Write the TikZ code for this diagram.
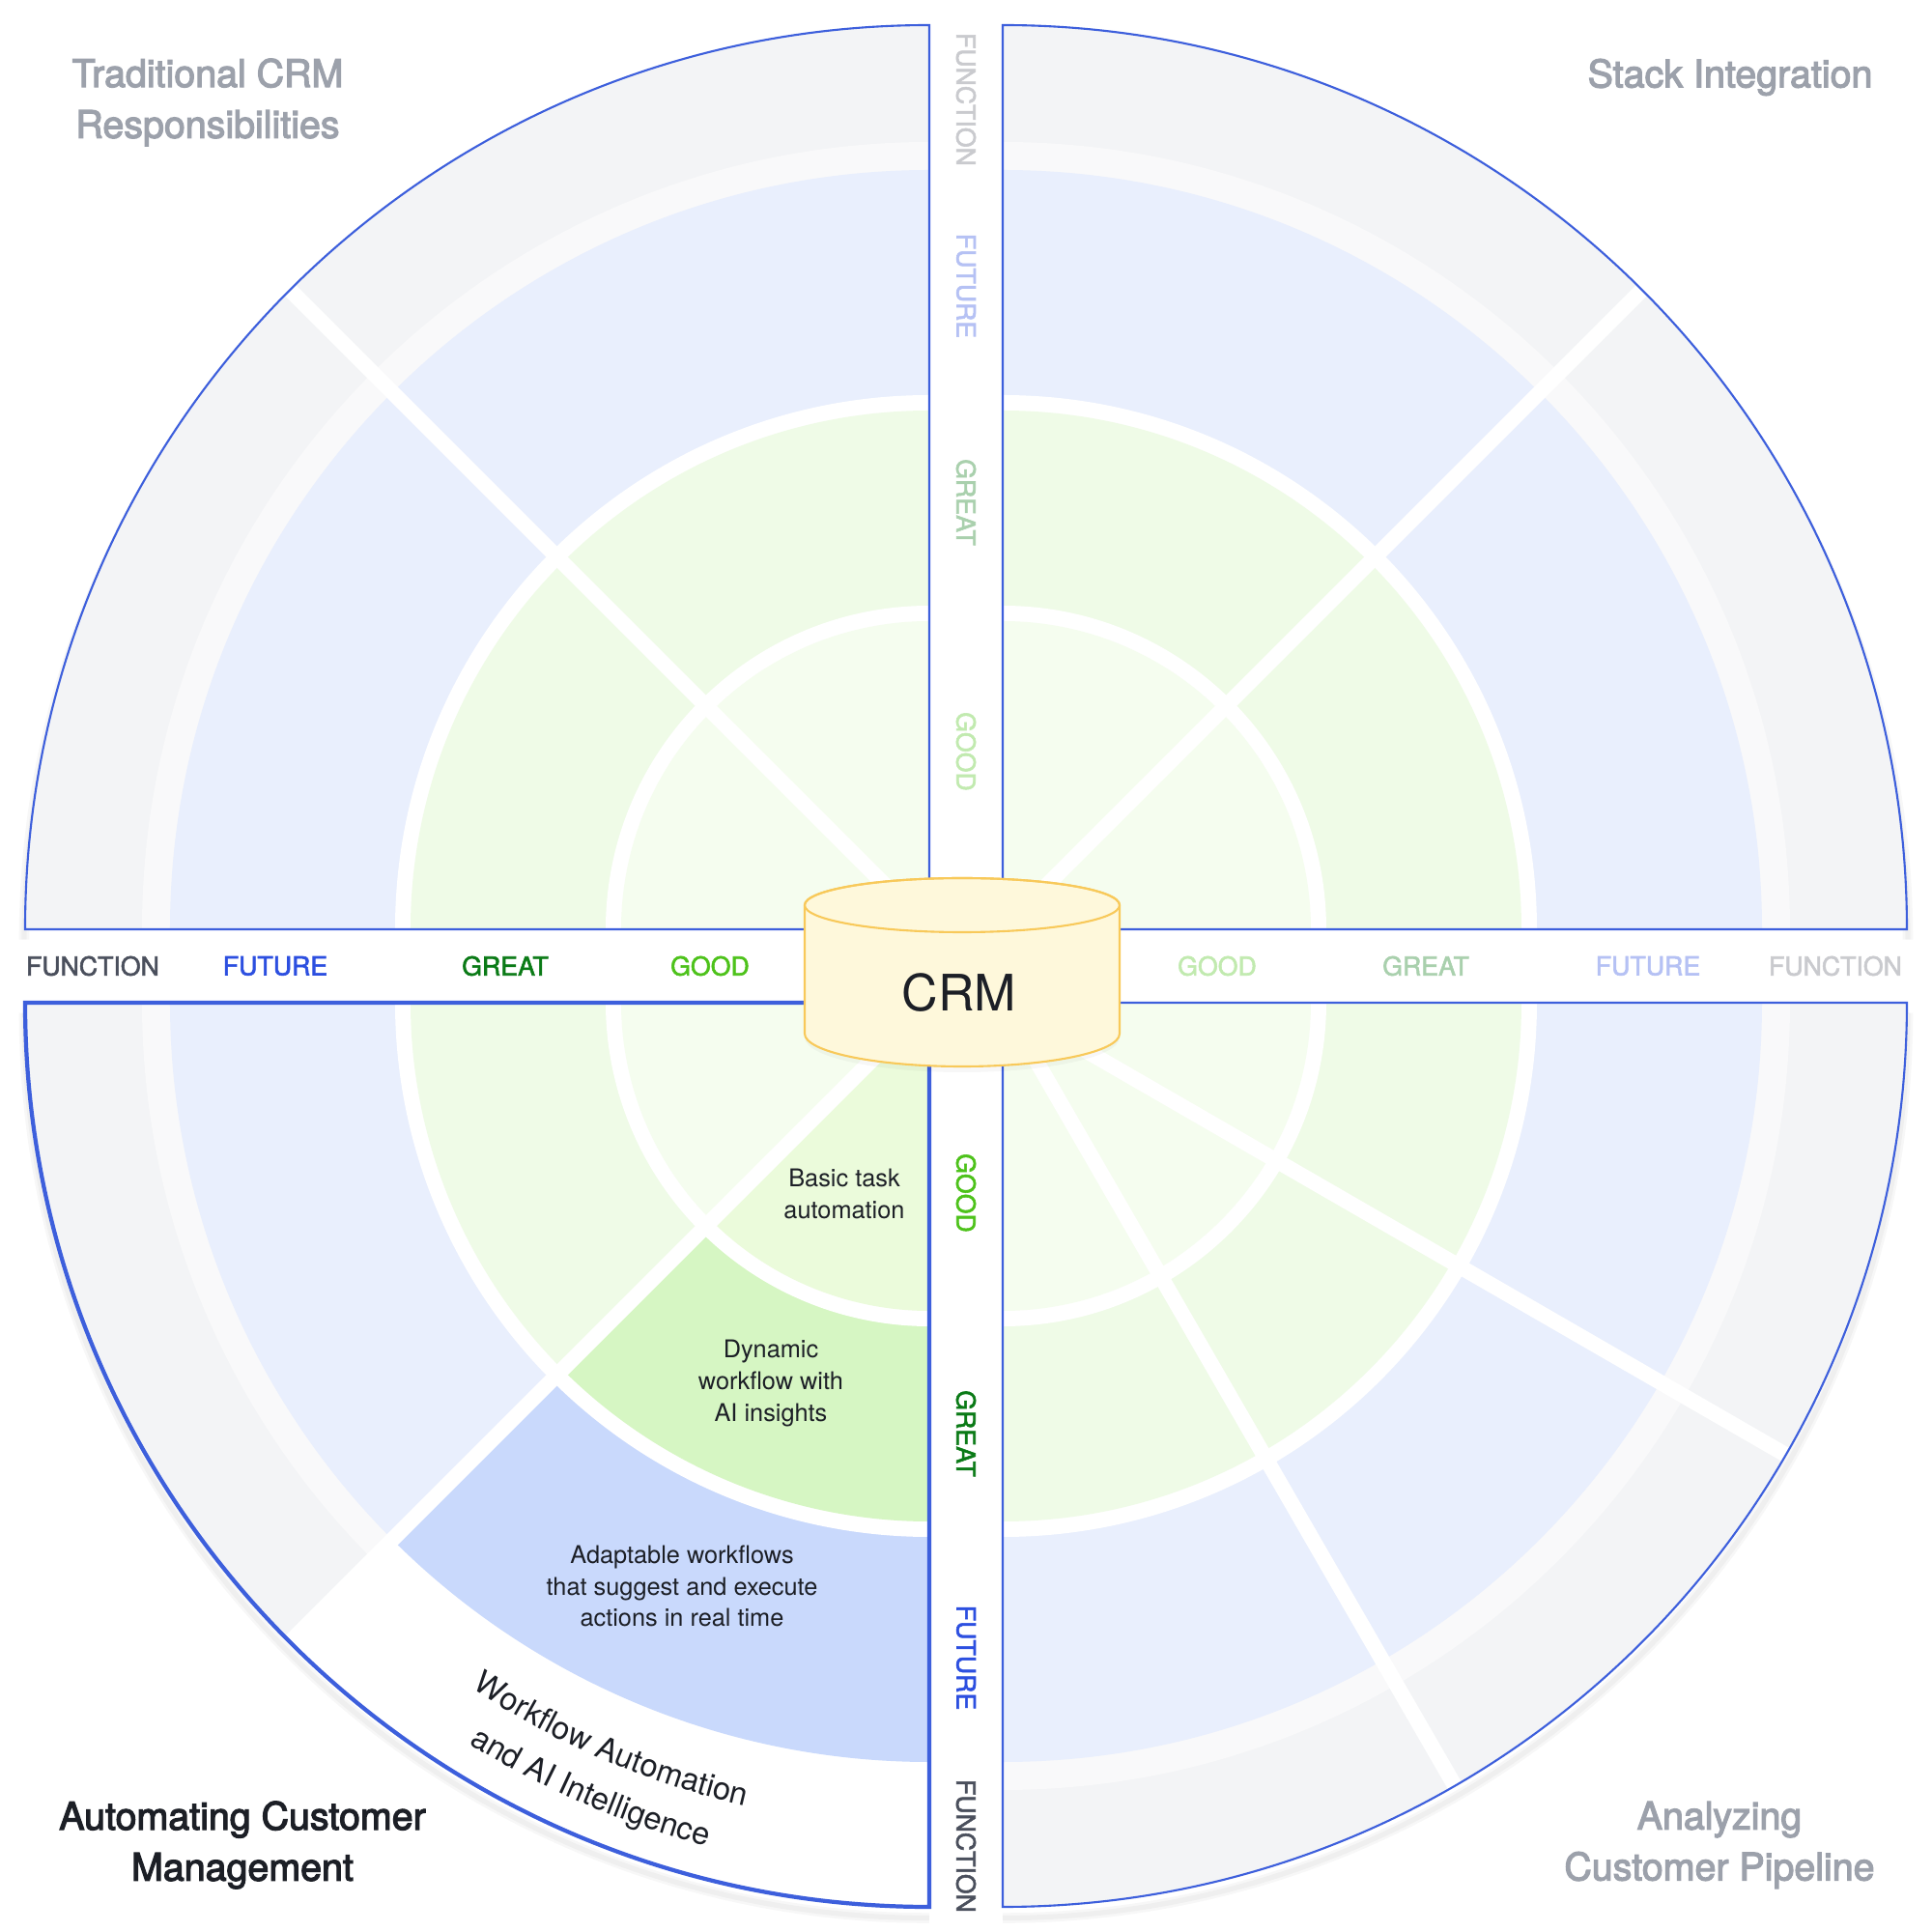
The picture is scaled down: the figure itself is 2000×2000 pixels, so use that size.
\documentclass[tikz,border=0pt]{standalone}
\usepackage{fontspec}
\setmainfont{TeX Gyre Heros}
\newfontfamily\medfont[FakeBold=2]{TeX Gyre Heros}
\newfontfamily\titlefont[FakeBold=3]{TeX Gyre Heros}
\usetikzlibrary{decorations.text}

\definecolor{fncfill}{HTML}{F3F4F6}
\definecolor{bandfill}{HTML}{F9F9FA}
\definecolor{ftrfill}{HTML}{E9EFFD}
\definecolor{grtfill}{HTML}{EFFBE7}
\definecolor{gdfill}{HTML}{F5FDEF}
\definecolor{hlftr}{HTML}{C9D9FC}
\definecolor{hlgrt}{HTML}{D6F6C3}
\definecolor{hlgd}{HTML}{EBFBDB}
\definecolor{qblue}{HTML}{3D5FDC}
\definecolor{crmfill}{HTML}{FEF8DB}
\definecolor{crmline}{HTML}{F8C95A}
\definecolor{fncc}{HTML}{4A4F5C}
\definecolor{ftrc}{HTML}{2C4FE0}
\definecolor{grtc}{HTML}{0A7A16}
\definecolor{gdc}{HTML}{4DC21A}
\definecolor{titlegray}{HTML}{9CA1AB}
\definecolor{inktext}{HTML}{1C1F26}

\begin{document}
\begin{tikzpicture}[x=0.01cm, y=0.01cm,
    divider/.style={white, line width=4.5pt},
    qborder/.style={draw=qblue, line width=0.6pt},
    qshadow/.style={black, opacity=0.03},
    level/.style={font=\medfont\fontsize{7.6}{9}\selectfont, inner sep=0pt},
    vlevel/.style={level, rotate=-90},
    cell/.style={font=\fontsize{7.2}{9.3}\selectfont, text=inktext, align=center, inner sep=0pt},
    title/.style={font=\titlefont\fontsize{11.2}{15}\selectfont, text=titlegray, align=center, inner sep=0pt}]
    \useasboundingbox (-1000,-1000) rectangle (1000,1000);
    \fill[white] (-1000,-1000) rectangle (1000,1000);

    \coordinate (tl) at (-38,38);
    \coordinate (tr) at (38,38);
    \coordinate (bl) at (-38,-38);
    \coordinate (br) at (38,-38);

    % soft shadow along the outer arcs
    \foreach \q/\a/\b in {tl/90/180, tr/0/90, br/-90/0, bl/180/270}
      \foreach \w in {1.5pt,3pt}
        \draw[qshadow, line width=\w] ([yshift=-3]\q) ++(\a:937) arc[start angle=\a, end angle=\b, radius=937];

    % rings of each quadrant
    \foreach \q/\a/\b in {tl/90/180, tr/0/90, br/-90/0, bl/180/225}
      \foreach \r/\col in {936/fncfill, 815/bandfill, 786/ftrfill, 553/white, 537/grtfill, 335/white, 319/gdfill}
        \fill[\col] (\q) -- ++(\a:\r) arc[start angle=\a, end angle=\b, radius=\r] -- cycle;
    % highlighted sector
    \fill[white] (bl) -- ++(225:936) arc[start angle=225, end angle=270, radius=936] -- cycle;
    \foreach \r/\col in {786/hlftr, 553/white, 537/hlgrt, 335/white, 319/hlgd}
      \fill[\col] (bl) -- ++(225:\r) arc[start angle=225, end angle=270, radius=\r] -- cycle;

    \draw[divider] (tl) -- ++(135:936);
    \draw[divider] (tr) -- ++(45:936);
    \draw[divider] (bl) -- ++(225:936);
    \draw[divider] (br) -- ++(-30:936);
    \draw[divider] (br) -- ++(-60:936);

    \draw[qborder] (tl) -- ++(90:936) arc[start angle=90, end angle=180, radius=936] -- cycle;
    \draw[qborder] (tr) -- ++(0:936) arc[start angle=0, end angle=90, radius=936] -- cycle;
    \draw[qborder] (br) -- ++(-90:936) arc[start angle=-90, end angle=0, radius=936] -- cycle;
    \draw[qborder, line width=1.2pt] (bl) -- ++(180:936) arc[start angle=180, end angle=270, radius=936] -- cycle;

    % level labels
    \node[level, text=fncc] (lfunction) at (-904,0) {FUNCTION};
    \node[level, text=ftrc] (lfuture) at (-715,0) {FUTURE};
    \node[level, text=grtc] (lgreat) at (-477,0) {GREAT};
    \node[level, text=gdc] (lgood) at (-265,0) {GOOD};
    \node[level, text=gdc!35] (rgood) at (260,0) {GOOD};
    \node[level, text=grtc!35] (rgreat) at (476,0) {GREAT};
    \node[level, text=ftrc!35] (rfuture) at (706,0) {FUTURE};
    \node[level, text=fncc!30] (rfunction) at (900,0) {FUNCTION};
    \node[vlevel, text=fncc!30] (tfunction) at (0,897) {FUNCTION};
    \node[vlevel, text=ftrc!35] (tfuture) at (0,704) {FUTURE};
    \node[vlevel, text=grtc!35] (tgreat) at (0,480) {GREAT};
    \node[vlevel, text=gdc!35] (tgood) at (0,222) {GOOD};
    \node[vlevel, text=gdc] (bgood) at (0,-235) {GOOD};
    \node[vlevel, text=grtc] (bgreat) at (0,-484) {GREAT};
    \node[vlevel, text=ftrc] (bfuture) at (0,-716) {FUTURE};
    \node[vlevel, text=fncc] (bfunction) at (0,-911) {FUNCTION};

    % CRM cylinder
    \fill[qshadow] (-167,58) -- (-167,-74)
      arc[start angle=180, end angle=360, x radius=163, y radius=36] -- (159,58) -- cycle;
    \filldraw[fill=crmfill, draw=crmline, line width=0.6pt] (-167,63) -- (-167,-70)
      arc[start angle=180, end angle=360, x radius=163, y radius=34] -- (159,63)
      arc[start angle=0, end angle=180, x radius=163, y radius=28] -- cycle;
    \draw[crmline, line width=0.6pt] (-4,63) ellipse[x radius=163, y radius=28];
    \node[font=\fontsize{14.8}{16}\selectfont, text=inktext] (crm) at (-7,-28) {CRM};

    % highlighted sector texts
    \node[cell] (basic) at (-126,-236) {Basic task\\automation};
    \node[cell] (dynamic) at (-202,-432) {Dynamic\\workflow with\\AI insights};
    \node[cell] (adaptable) at (-294,-642) {Adaptable workflows\\that suggest and execute\\actions in real time};
    \path[decorate, decoration={text along path, text align=center,
        text={|\fontsize{9.3}{11}\selectfont\color{inktext}|Workflow Automation}}]
      ([shift={(225:853)}]bl) arc[start angle=225, end angle=268.4, radius=853];
    \path[decorate, decoration={text along path, text align=center,
        text={|\fontsize{9.3}{11}\selectfont\color{inktext}|and AI Intelligence}}]
      ([shift={(225:903)}]bl) arc[start angle=225, end angle=268.4, radius=903];

    % titles
    \node[title] (traditional) at (-785,894) {Traditional CRM\\Responsibilities};
    \node[title] (stack) at (791,920) {Stack Integration};
    \node[title] (pipeline) at (780,-910) {Analyzing\\Customer Pipeline};
    \node[title, text=inktext] (automating) at (-749,-910) {Automating Customer\\Management};
\end{tikzpicture}
\end{document}
